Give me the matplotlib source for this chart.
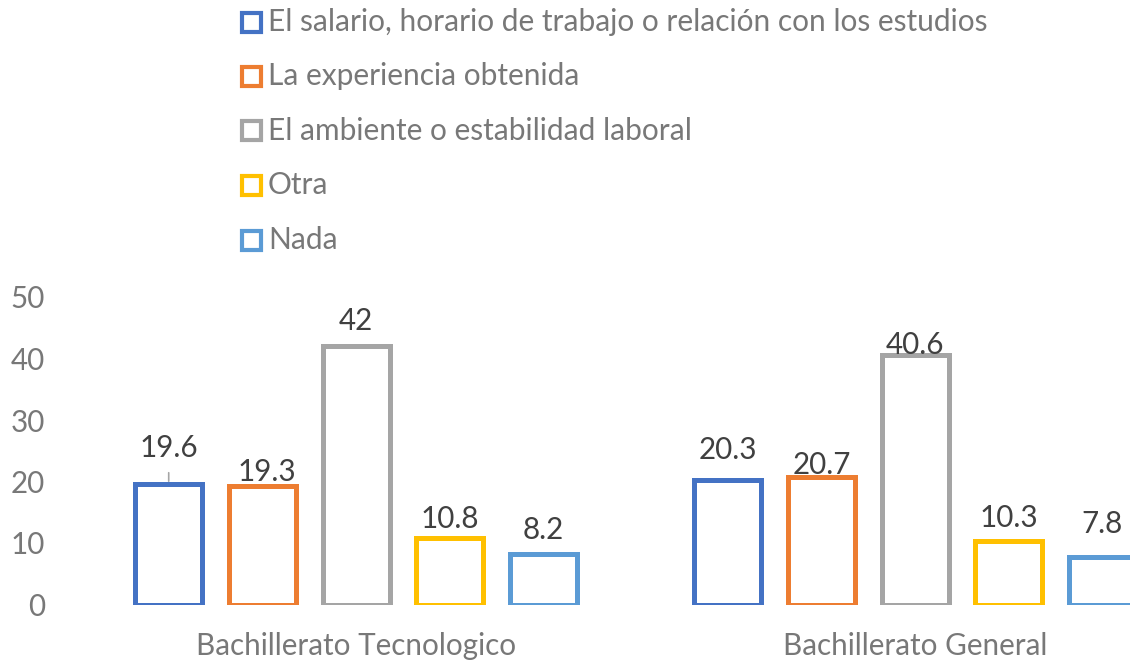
"""Outlined grouped bar chart: what students value in their job, by school type."""

import matplotlib.pyplot as plt
import numpy as np
from matplotlib.patches import Rectangle

plt.rcParams["font.family"] = ["Lato", "DejaVu Sans"]

categories = ["Bachillerato Tecnologico", "Bachillerato General"]
series_names = [
    "El salario, horario de trabajo o relación con los estudios",
    "La experiencia obtenida",
    "El ambiente o estabilidad laboral",
    "Otra",
    "Nada",
]
salario = [19.6, 20.3]
experiencia = [19.3, 20.7]
ambiente = [42.0, 40.6]
otra = [10.8, 10.3]
nada = [8.2, 7.8]
y_ticks = [0, 10, 20, 30, 40, 50]

series_values = [salario, experiencia, ambiente, otra, nada]
colors = ["#4472C4", "#ED7D31", "#A5A5A5", "#FFC000", "#5B9BD5"]

# label placement, pixels above the bar top (some were dragged by hand in the original)
label_dy = [[36, 30], [14, 12], [25, 10], [19, 23], [24, 33]]
label_dx = [[0, 0], [4, 0], [0, 0], [0, 0], [0, 0]]

W, H = 1130, 661
fig = plt.figure(figsize=(W / 100, H / 100), dpi=100)
ax = fig.add_axes([76.5 / W, (H - 604.5) / H, (W - 76.5) / W, 307.5 / H])

step = 93.7 / 559.3
width = 67 / 559.3
x = np.arange(len(categories))

for i, (values, color) in enumerate(zip(series_values, colors)):
    pos = x + (i - 2) * step
    ax.bar(pos, values, width, facecolor="white", edgecolor=color, linewidth=3.6)
    for j, (px, val) in enumerate(zip(pos, values)):
        label = f"{val:g}"
        ax.annotate(label, (px, val), xytext=(label_dx[i][j], label_dy[i][j]),
                    textcoords="offset pixels", ha="center", va="center",
                    fontsize=21.3, color="#404040", annotation_clip=False)

# leader line for the dragged label
ax.annotate("", (x[0] - 2 * step, salario[0]), xytext=(0, 14), textcoords="offset pixels",
            arrowprops=dict(arrowstyle="-", color="#A5A5A5", lw=1.2))

ax.set_xlim(-0.5, (W - 355.7) / 559.3)
ax.set_ylim(0, 50)
ax.set_yticks(y_ticks)
ax.set_xticks(x)
ax.set_xticklabels(categories)
ax.tick_params(axis="y", length=0, pad=22.7, labelsize=21.3, labelcolor="#787878")
ax.tick_params(axis="x", length=0, pad=20, labelsize=21.3, labelcolor="#787878")
for spine in ax.spines.values():
    spine.set_visible(False)

# legend drawn by hand, one row per series
row_y = [22, 76, 130.5, 185, 240]
for name, color, ry in zip(series_names, colors, row_y):
    fig.patches.append(Rectangle(((241.5) / W, (H - ry - 9.5) / H), 19 / W, 19 / H,
                                 transform=fig.transFigure, facecolor="white",
                                 edgecolor=color, linewidth=3))
    fig.text(268 / W, (H - ry) / H, name, ha="left", va="center",
             fontsize=21.5, color="#787878")

fig.savefig("out.png", dpi=100)
